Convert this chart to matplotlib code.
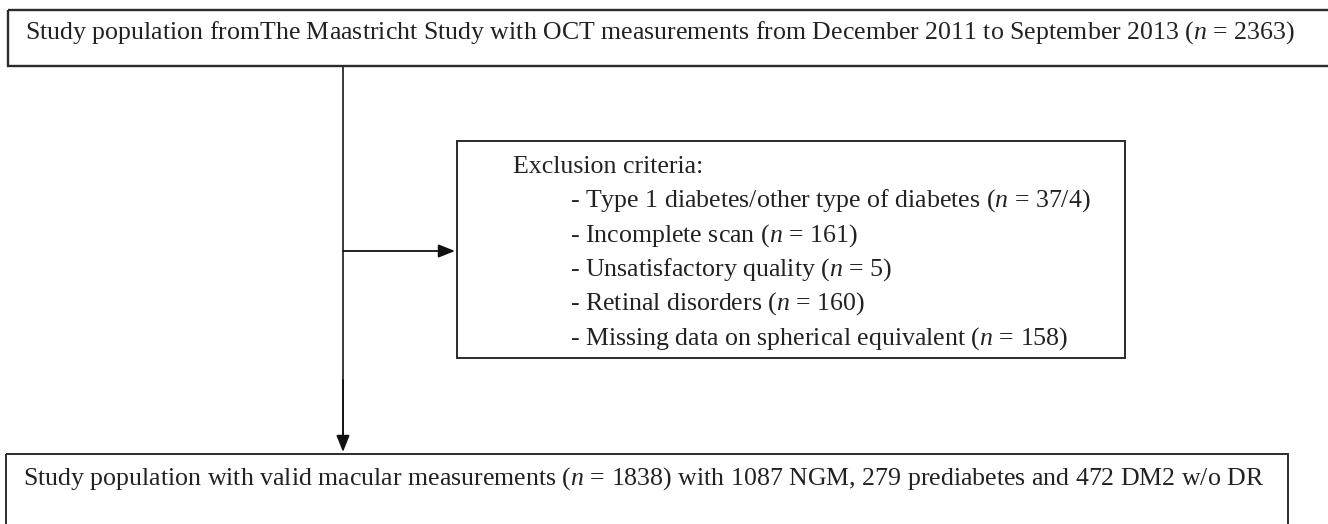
import matplotlib.pyplot as plt
from matplotlib.patches import Rectangle

plt.rcParams['font.family'] = 'Liberation Serif'
plt.rcParams['mathtext.fontset'] = 'custom'
plt.rcParams['mathtext.rm'] = 'Liberation Serif'
plt.rcParams['mathtext.it'] = 'Liberation Serif:italic'

# flowchart content
top_text = "Study population fromThe Maastricht Study with OCT measurements from December 2011 to September 2013 ($n$ = 2363)"
excl_title = "Exclusion criteria:"
excl_items = [
    "- Type 1 diabetes/other type of diabetes ($n$ = 37/4)",
    "- Incomplete scan ($n$ = 161)",
    "- Unsatisfactory quality ($n$ = 5)",
    "- Retinal disorders ($n$ = 160)",
    "- Missing data on spherical equivalent ($n$ = 158)",
]
bottom_text = "Study population with valid macular measurements ($n$ = 1838) with 1087 NGM, 279 prediabetes and 472 DM2 w/o DR"

fig = plt.figure(figsize=(13.28, 5.24), dpi=100)
ax = fig.add_axes([0, 0, 1, 1])
ax.set_xlim(0, 1328)
ax.set_ylim(524, 0)
ax.axis('off')

edge = '#2b2b2b'
txt = '#222222'
fs = 18.6

# boxes (x, y, w, h) in pixel coordinates
ax.add_patch(Rectangle((8, 10), 1340, 56, fill=False, ec=edge, lw=1.7))
ax.add_patch(Rectangle((457, 141), 668, 217, fill=False, ec=edge, lw=1.4))
ax.add_patch(Rectangle((6, 454), 1282, 100, fill=False, ec=edge, lw=1.4))

# connectors
arrow = dict(arrowstyle='-|>,head_length=1.0,head_width=0.4',
             color='#111111', lw=1.3, shrinkA=0, shrinkB=0)
ax.plot([343, 343], [66, 440], color=edge, lw=1.3)
ax.annotate('', xy=(343, 452), xytext=(343, 380), arrowprops=arrow)
ax.annotate('', xy=(455, 251), xytext=(343, 251), arrowprops=arrow)

ax.text(25, 39, top_text, fontsize=fs, va='baseline', ha='left', color=txt)

ax.text(513, 173, excl_title, fontsize=fs, va='baseline', ha='left', color=txt)
for i, item in enumerate(excl_items):
    ax.text(570, 207 + i * 34.3, item, fontsize=fs, va='baseline', ha='left', color=txt)

ax.text(23, 485, bottom_text, fontsize=fs, va='baseline', ha='left', color=txt)

plt.savefig('out.png', dpi=100)
